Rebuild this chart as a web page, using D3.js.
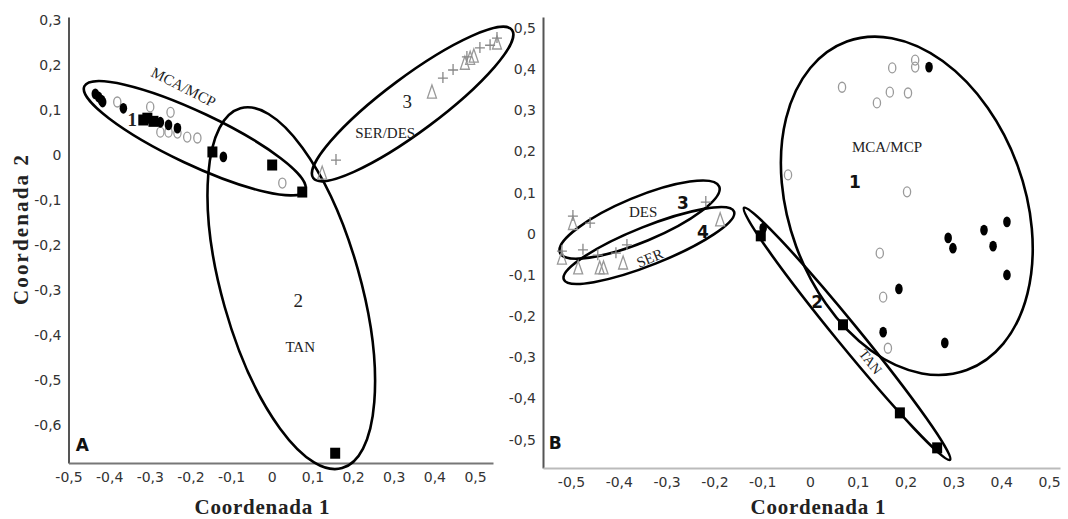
<!DOCTYPE html>
<html>
<head>
<meta charset="utf-8">
<script src="https://d3js.org/d3.v7.min.js"></script>
<style>
  body { margin: 0; background: #fff; }
  .axis path { stroke-width: 2; }
  .axis line { stroke: none; }
  .axis text { font-family: 'DejaVu Sans', sans-serif; font-size: 14px; fill: #333; }
  .title { font-family: 'Liberation Serif', serif; font-weight: bold; fill: #222; }
  .lab { font-family: 'Liberation Serif', serif; fill: #222; }
  .num { font-family: 'DejaVu Sans', sans-serif; font-weight: bold; fill: #111; }
</style>
</head>
<body>
<svg id="chart" width="1068" height="519"></svg>
<script>
// tick values
var ticksAx = [-0.5, -0.4, -0.3, -0.2, -0.1, 0, 0.1, 0.2, 0.3, 0.4, 0.5];
var ticksAy = [0.3, 0.2, 0.1, 0, -0.1, -0.2, -0.3, -0.4, -0.5, -0.6];
var ticksBx = [-0.5, -0.4, -0.3, -0.2, -0.1, 0, 0.1, 0.2, 0.3, 0.4, 0.5];
var ticksBy = [0.5, 0.4, 0.3, 0.2, 0.1, 0, -0.1, -0.2, -0.3, -0.4, -0.5];

// panel A points [coord1, coord2]
var aMcaFilled = [[-0.426, 0.129], [-0.434, 0.136], [-0.419, 0.122], [-0.416, 0.118], [-0.365, 0.104],
  [-0.274, 0.073], [-0.254, 0.067], [-0.232, 0.060], [-0.119, -0.004]];
var aMcpOpen = [[-0.380, 0.118], [-0.299, 0.107], [-0.249, 0.095], [-0.274, 0.051], [-0.254, 0.051],
  [-0.232, 0.049], [-0.208, 0.040], [-0.183, 0.038], [0.026, -0.062]];
var aTan = [[-0.316, 0.078], [-0.306, 0.082], [-0.291, 0.075], [-0.146, 0.007], [0.001, -0.022],
  [0.075, -0.082], [0.156, -0.662]];
var aSer = [[0.124, -0.040], [0.394, 0.140], [0.475, 0.204], [0.488, 0.215], [0.497, 0.220], [0.554, 0.249]];
var aDes = [[0.158, -0.011], [0.421, 0.171], [0.446, 0.189], [0.480, 0.218], [0.512, 0.238],
  [0.537, 0.244], [0.554, 0.260]];

// panel B points
var bMcaFilled = [[0.249, 0.405], [0.289, -0.010], [0.299, -0.035], [0.364, 0.009], [0.383, -0.030],
  [0.412, 0.029], [0.412, -0.100], [0.186, -0.134], [0.153, -0.239], [0.282, -0.265], [-0.098, 0.014]];
var bMcpOpen = [[0.067, 0.356], [0.172, 0.403], [0.220, 0.422], [0.220, 0.405], [0.167, 0.344],
  [0.205, 0.342], [0.140, 0.318], [-0.046, 0.143], [0.203, 0.102], [0.146, -0.047], [0.153, -0.154],
  [0.163, -0.278]];
var bTan = [[0.069, -0.221], [0.188, -0.435], [0.266, -0.520], [-0.103, -0.005]];
var bSer = [[-0.496, 0.025], [-0.519, -0.059], [-0.485, -0.083], [-0.440, -0.083], [-0.432, -0.083],
  [-0.391, -0.071], [-0.188, 0.034]];
var bDes = [[-0.496, 0.043], [-0.519, -0.042], [-0.460, 0.026], [-0.475, -0.039], [-0.444, -0.052],
  [-0.406, -0.047], [-0.383, -0.027], [-0.218, 0.077]];

// group ellipses: two ends of the long axis, and short/long axis ratio
var aGroups = [
  {p1: [-0.461, 0.153], p2: [0.082, -0.078], r: 0.215},
  {p1: [-0.077, 0.104], p2: [0.173, -0.695], r: 0.37},
  {p1: [0.102, -0.051], p2: [0.591, 0.278], r: 0.22}
];
var bGroups = [
  {p1: [0.077, 0.467], p2: [0.328, -0.331], r: 0.674},
  {p1: [-0.138, 0.063], p2: [0.293, -0.549], r: 0.07},
  {p1: [-0.523, -0.046], p2: [-0.190, 0.115], r: 0.26},
  {p1: [-0.515, -0.111], p2: [-0.159, 0.054], r: 0.21}
];

// text labels [x, y, text, class, size, rotate]
var aLabels = [
  [-0.217, 0.151, "MCA/MCP", "lab", 15, 27],
  [-0.343, 0.078, "1", "lab bold", 19, 0],
  [0.065, -0.322, "2", "lab", 19, 0],
  [0.070, -0.426, "TAN", "lab", 15, 0],
  [0.333, 0.118, "3", "lab", 19, 0],
  [0.279, 0.049, "SER/DES", "lab", 15, 0],
  [-0.466, -0.644, "A", "num", 17, 0]
];
var bLabels = [
  [0.161, 0.211, "MCA/MCP", "lab", 15, 0],
  [0.094, 0.126, "1", "num", 17, 0],
  [0.015, -0.166, "2", "num", 17, 0],
  [0.126, -0.311, "TAN", "lab", 14, 52],
  [-0.349, 0.053, "DES", "lab", 15, 0],
  [-0.266, 0.075, "3", "num", 17, 0],
  [-0.224, 0.004, "4", "num", 17, 0],
  [-0.335, -0.059, "SER", "lab", 15, -23],
  [-0.533, -0.508, "B", "num", 17, 0]
];

var svg = d3.select("#chart");
var comma = function(d) { return d === 0 ? "0" : d.toFixed(1).replace(".", ","); };

function panel(cfg) {
  var x = d3.scaleLinear().domain(cfg.xd).range(cfg.xr);
  var y = d3.scaleLinear().domain(cfg.yd).range(cfg.yr);
  var g = svg.append("g");

  var yAx = g.append("g").attr("class", "axis")
    .attr("transform", "translate(" + cfg.xr[0] + ",0)")
    .call(d3.axisLeft(y).tickValues(cfg.yt).tickFormat(comma).tickSize(0).tickPadding(7));
  yAx.select(".domain").attr("stroke", "#555");
  var xAx = g.append("g").attr("class", "axis")
    .attr("transform", "translate(0," + cfg.yr[0] + ")")
    .call(d3.axisBottom(x).tickValues(cfg.xt).tickFormat(comma).tickSize(0).tickPadding(9));
  xAx.select(".domain").attr("stroke", cfg.xcol);

  // ellipses
  cfg.groups.forEach(function(e) {
    var x1 = x(e.p1[0]), y1 = y(e.p1[1]), x2 = x(e.p2[0]), y2 = y(e.p2[1]);
    var a = Math.hypot(x2 - x1, y2 - y1) / 2;
    var ang = Math.atan2(y2 - y1, x2 - x1) * 180 / Math.PI;
    g.append("ellipse")
      .attr("transform", "translate(" + (x1 + x2) / 2 + "," + (y1 + y2) / 2 + ") rotate(" + ang + ")")
      .attr("rx", a).attr("ry", a * e.r)
      .attr("fill", "none").attr("stroke", "#000").attr("stroke-width", 2.6);
  });

  g.selectAll(".open").data(cfg.open).enter().append("ellipse")
    .attr("cx", function(d) { return x(d[0]); }).attr("cy", function(d) { return y(d[1]); })
    .attr("rx", 3.6).attr("ry", 5).attr("fill", "none").attr("stroke", "#9a9a9a").attr("stroke-width", 1.3);
  g.selectAll(".filled").data(cfg.filled).enter().append("ellipse")
    .attr("cx", function(d) { return x(d[0]); }).attr("cy", function(d) { return y(d[1]); })
    .attr("rx", 3.8).attr("ry", 5.4).attr("fill", "#000");
  g.selectAll(".sq").data(cfg.tan).enter().append("rect")
    .attr("x", function(d) { return x(d[0]) - 5; }).attr("y", function(d) { return y(d[1]) - 5.5; })
    .attr("width", 10).attr("height", 11).attr("fill", "#000");
  g.selectAll(".tri").data(cfg.ser).enter().append("path")
    .attr("d", function(d) {
      var cx = x(d[0]), cy = y(d[1]);
      return "M" + cx + "," + (cy - 7) + "L" + (cx + 4.5) + "," + (cy + 6) + "L" + (cx - 4.5) + "," + (cy + 6) + "Z";
    })
    .attr("fill", "none").attr("stroke", "#999").attr("stroke-width", 1.3);
  g.selectAll(".plus").data(cfg.des).enter().append("path")
    .attr("d", function(d) {
      var cx = x(d[0]), cy = y(d[1]);
      return "M" + (cx - 5) + "," + cy + "H" + (cx + 5) + "M" + cx + "," + (cy - 6) + "V" + (cy + 5);
    })
    .attr("fill", "none").attr("stroke", "#888").attr("stroke-width", 1.3);

  cfg.labels.forEach(function(l) {
    var t = g.append("text").attr("class", l[3].replace(" bold", ""))
      .attr("transform", "translate(" + x(l[0]) + "," + y(l[1]) + ") rotate(" + l[5] + ")")
      .attr("text-anchor", "middle").attr("dominant-baseline", "central")
      .style("font-size", l[4] + "px").text(l[2]);
    if (l[3].indexOf("bold") >= 0) t.style("font-weight", "bold");
  });

  g.append("text").attr("class", "title")
    .attr("x", cfg.titleX).attr("y", 507).attr("text-anchor", "middle")
    .attr("dominant-baseline", "central").style("font-size", "21px")
    .attr("textLength", 135).text("Coordenada 1");
  return g;
}

panel({
  xd: [-0.5, 0.5442], xr: [68.5, 493], yd: [-0.6837, 0.3067], yr: [463, 17],
  xt: ticksAx, yt: ticksAy, xcol: "#777",
  filled: aMcaFilled, open: aMcpOpen, tan: aTan, ser: aSer, des: aDes,
  groups: aGroups, labels: aLabels, titleX: 262
});
panel({
  xd: [-0.5586, 0.523], xr: [543, 1060], yd: [-0.5689, 0.5266], yr: [468, 17],
  xt: ticksBx, yt: ticksBy, xcol: "#bbb",
  filled: bMcaFilled, open: bMcpOpen, tan: bTan, ser: bSer, des: bDes,
  groups: bGroups, labels: bLabels, titleX: 818
});

svg.append("text").attr("class", "title")
  .attr("transform", "translate(21,230) rotate(-90)")
  .attr("text-anchor", "middle").attr("dominant-baseline", "central")
  .style("font-size", "21px").attr("textLength", 150).text("Coordenada 2");
</script>
</body>
</html>
